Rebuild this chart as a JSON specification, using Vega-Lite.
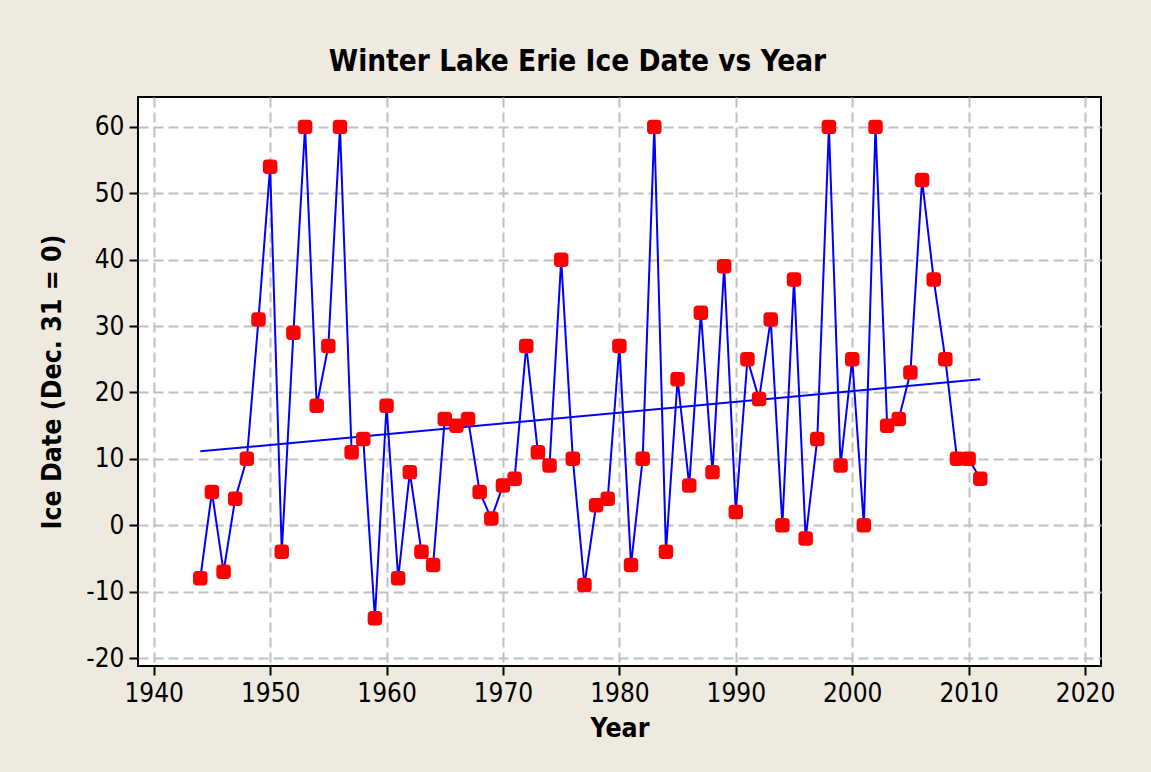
{
  "$schema": "https://vega.github.io/schema/vega-lite/v6.json",
  "width": 963,
  "height": 569,
  "autosize": {"type": "none"},
  "padding": {"left": 138, "top": 97, "right": 50, "bottom": 106},
  "background": "#EEEAE0",
  "title": {
    "text": "Winter Lake Erie Ice Date vs Year",
    "font": "DejaVu Sans Condensed",
    "fontSize": 29.5,
    "fontWeight": "bold",
    "color": "black",
    "offset": 20,
    "dx": -42,
    "anchor": "middle"
  },
  "data": {
    "values": [
      {"year": 1944, "ice": -8}, {"year": 1945, "ice": 5}, {"year": 1946, "ice": -7}, {"year": 1947, "ice": 4},
      {"year": 1948, "ice": 10}, {"year": 1949, "ice": 31}, {"year": 1950, "ice": 54}, {"year": 1951, "ice": -4},
      {"year": 1952, "ice": 29}, {"year": 1953, "ice": 60}, {"year": 1954, "ice": 18}, {"year": 1955, "ice": 27},
      {"year": 1956, "ice": 60}, {"year": 1957, "ice": 11}, {"year": 1958, "ice": 13}, {"year": 1959, "ice": -14},
      {"year": 1960, "ice": 18}, {"year": 1961, "ice": -8}, {"year": 1962, "ice": 8}, {"year": 1963, "ice": -4},
      {"year": 1964, "ice": -6}, {"year": 1965, "ice": 16}, {"year": 1966, "ice": 15}, {"year": 1967, "ice": 16},
      {"year": 1968, "ice": 5}, {"year": 1969, "ice": 1}, {"year": 1970, "ice": 6}, {"year": 1971, "ice": 7},
      {"year": 1972, "ice": 27}, {"year": 1973, "ice": 11}, {"year": 1974, "ice": 9}, {"year": 1975, "ice": 40},
      {"year": 1976, "ice": 10}, {"year": 1977, "ice": -9}, {"year": 1978, "ice": 3}, {"year": 1979, "ice": 4},
      {"year": 1980, "ice": 27}, {"year": 1981, "ice": -6}, {"year": 1982, "ice": 10}, {"year": 1983, "ice": 60},
      {"year": 1984, "ice": -4}, {"year": 1985, "ice": 22}, {"year": 1986, "ice": 6}, {"year": 1987, "ice": 32},
      {"year": 1988, "ice": 8}, {"year": 1989, "ice": 39}, {"year": 1990, "ice": 2}, {"year": 1991, "ice": 25},
      {"year": 1992, "ice": 19}, {"year": 1993, "ice": 31}, {"year": 1994, "ice": 0}, {"year": 1995, "ice": 37},
      {"year": 1996, "ice": -2}, {"year": 1997, "ice": 13}, {"year": 1998, "ice": 60}, {"year": 1999, "ice": 9},
      {"year": 2000, "ice": 25}, {"year": 2001, "ice": 0}, {"year": 2002, "ice": 60}, {"year": 2003, "ice": 15},
      {"year": 2004, "ice": 16}, {"year": 2005, "ice": 23}, {"year": 2006, "ice": 52}, {"year": 2007, "ice": 37},
      {"year": 2008, "ice": 25}, {"year": 2009, "ice": 10}, {"year": 2010, "ice": 10}, {"year": 2011, "ice": 7}
    ]
  },
  "encoding": {
    "x": {
      "field": "year",
      "type": "quantitative",
      "title": "Year",
      "scale": {"domain": [1938.65, 2021.37], "nice": false, "zero": false},
      "axis": {
        "values": [1940, 1950, 1960, 1970, 1980, 1990, 2000, 2010, 2020],
        "labelExpr": "'' + datum.value",
        "labelPadding": 5,
        "titlePadding": 9
      }
    },
    "y": {
      "field": "ice",
      "type": "quantitative",
      "title": "Ice Date (Dec. 31 = 0)",
      "scale": {"domain": [-21.2, 64.5], "nice": false, "zero": false},
      "axis": {
        "values": [-20, -10, 0, 10, 20, 30, 40, 50, 60],
        "labelExpr": "'' + datum.value",
        "labelPadding": 5,
        "titlePadding": 19
      }
    }
  },
  "layer": [
    {
      "transform": [{"regression": "ice", "on": "year"}],
      "mark": {"type": "line", "color": "#0000FF", "strokeWidth": 2}
    },
    {
      "mark": {"type": "line", "color": "#0000FF", "strokeWidth": 2}
    },
    {
      "mark": {
        "type": "point",
        "shape": "M-0.45,-1 L0.45,-1 Q1,-1 1,-0.45 L1,0.45 Q1,1 0.45,1 L-0.45,1 Q-1,1 -1,0.45 L-1,-0.45 Q-1,-1 -0.45,-1 Z",
        "size": 210,
        "filled": true,
        "fill": "#FF0000",
        "strokeWidth": 0,
        "opacity": 1
      }
    }
  ],
  "config": {
    "view": {"fill": "white", "stroke": "black", "strokeWidth": 2},
    "axis": {
      "domain": false,
      "labelFont": "DejaVu Sans Condensed",
      "labelFontSize": 26,
      "labelColor": "black",
      "tickColor": "black",
      "tickSize": 9,
      "tickWidth": 2,
      "grid": true,
      "gridColor": "#C0C0C0",
      "gridDash": [10, 5],
      "gridWidth": 2,
      "titleFont": "DejaVu Sans Condensed",
      "titleFontSize": 26.5,
      "titleFontWeight": "bold",
      "titleColor": "black"
    }
  }
}
